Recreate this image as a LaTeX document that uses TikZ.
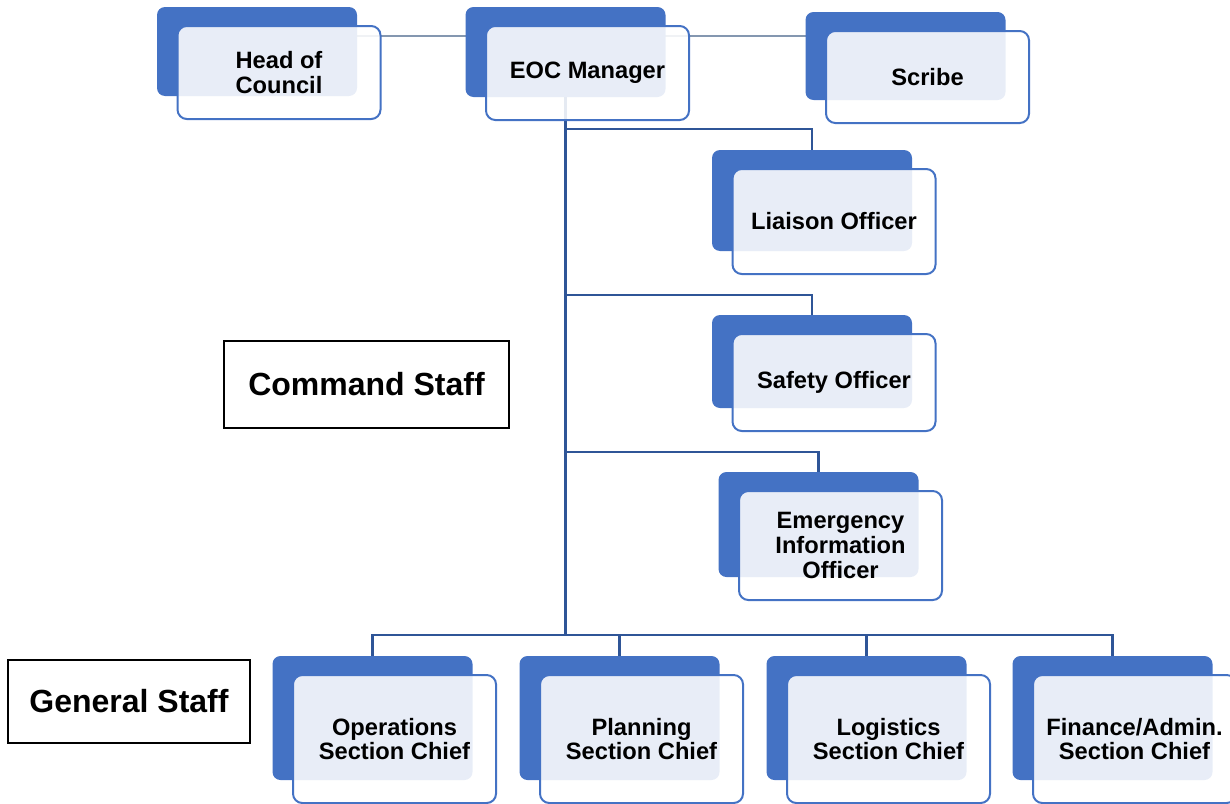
\documentclass[tikz,border=0pt]{standalone}
\usepackage{fontspec}
\setmainfont{Liberation Sans}
\usetikzlibrary{positioning, backgrounds}
\definecolor{cardblue}{HTML}{4472C4}
\definecolor{trunkblue}{HTML}{2F5597}
\definecolor{peergray}{HTML}{8497B0}

\begin{document}
\begin{tikzpicture}[x=0.75pt, y=-0.75pt,
    backbox/.style={rectangle, rounded corners=6pt, fill=cardblue,
      minimum width=150pt, minimum height=#1, inner sep=0pt},
    frontbox/.style={rectangle, rounded corners=7pt, draw=cardblue,
      line width=1.5pt, fill=white, fill opacity=0.88, text opacity=1,
      minimum width=152.25pt, minimum height=#1, inner sep=0pt,
      align=center, font=\bfseries\fontsize{17.75}{18.5}\selectfont},
    staffbox/.style={rectangle, draw=black, line width=1.2pt,
      font=\bfseries\fontsize{24}{26}\selectfont},
    trunk/.style={draw=trunkblue, line width=1.7pt},
    peer/.style={draw=peergray, line width=1.3pt}]
  \useasboundingbox (0,0) rectangle (1230,803);
  \coordinate (peerline) at (0,36);
  % Top row
  \node[backbox=66.75pt] (headb) at (257,51.5) {};
  \node[frontbox=69.75pt] (head) at ([shift={(22,21)}]headb.center) {Head of\\Council};
  \node[backbox=67.5pt] (eocb) at (565.5,52) {};
  \node[frontbox=70.5pt] (eoc) at ([shift={(22,21)}]eocb.center) {EOC Manager};
  \node[backbox=66pt] (scribeb) at (905.5,56) {};
  \node[frontbox=69pt] (scribe) at ([shift={(22,21)}]scribeb.center) {Scribe};
  % Command staff
  \node[backbox=75.75pt] (liaisonb) at (812,200.5) {};
  \node[frontbox=78.75pt] (liaison) at ([shift={(22,21)}]liaisonb.center) {Liaison Officer};
  \node[backbox=69.75pt] (safetyb) at (812,361.5) {};
  \node[frontbox=72.75pt] (safety) at ([shift={(22,21)}]safetyb.center) {Safety Officer};
  \node[backbox=78.75pt] (eiob) at (818.5,524.5) {};
  \node[frontbox=81.75pt] (eio) at ([shift={(22,21)}]eiob.center) {Emergency\\Information\\Officer};
  % General staff
  \node[backbox=93pt] (opsb) at (372.5,718) {};
  \node[frontbox=96pt] (ops) at ([shift={(22,21)}]opsb.center) {Operations\\Section Chief};
  \node[backbox=93pt] (planb) at (619.5,718) {};
  \node[frontbox=96pt] (plan) at ([shift={(22,21)}]planb.center) {Planning\\Section Chief};
  \node[backbox=93pt] (logb) at (866.5,718) {};
  \node[frontbox=96pt] (logi) at ([shift={(22,21)}]logb.center) {Logistics\\Section Chief};
  \node[backbox=93pt] (finb) at (1112.5,718) {};
  \node[frontbox=96pt] (fin) at ([shift={(22,21)}]finb.center) {Finance/Admin.\\Section Chief};
  % Labels
  \node[staffbox, minimum width=213.75pt, minimum height=65.25pt] (command) at (366.5,384.5) {Command Staff};
  \node[staffbox, minimum width=181.5pt, minimum height=62.25pt] (general) at (129,701.5) {General Staff};
  % Lines
  \begin{scope}[on background layer]
    \draw[peer] (headb |- peerline) -- (eocb |- peerline);
    \draw[peer] (eocb |- peerline) -- (scribeb |- peerline);
    \draw[trunk] (liaisonb.north) -- ++(0,-21) -| (eocb.south);
    \draw[trunk] (safetyb.north) -- ++(0,-20) -| (eocb.south);
    \draw[trunk] (eiob.north) -- ++(0,-20) -| (eocb.south);
    \draw[trunk] (opsb.north) -- ++(0,-21) -| (eocb.south);
    \draw[trunk] (planb.north) -- ++(0,-21) -| (eocb.south);
    \draw[trunk] (logb.north) -- ++(0,-21) -| (eocb.south);
    \draw[trunk] (finb.north) -- ++(0,-21) -| (eocb.south);
  \end{scope}
\end{tikzpicture}
\end{document}
